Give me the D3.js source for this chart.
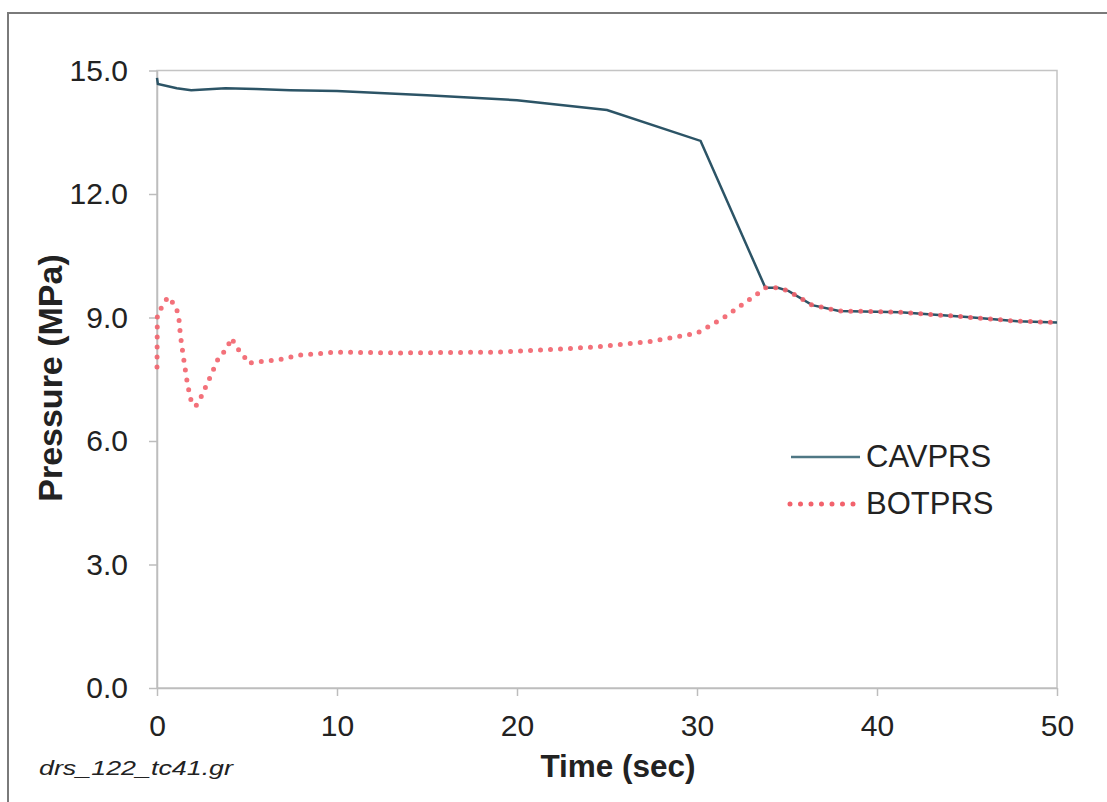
<!DOCTYPE html>
<html lang="en">
<head>
    <meta charset="UTF-8">
    <title>Pressure vs Time</title>
    <script src="https://d3js.org/d3.v7.min.js"></script>
    <style>
        body { margin: 0; background: #fff; }
        text { font-family: "Liberation Sans", Arial, sans-serif; fill: #222; }
    </style>
</head>
<body>
<script>
    const width  = 1107;
    const height = 802;

    // values
    const cavTime = [0, 0.05, 1.1, 1.9, 3.8, 5.5, 7.4, 10, 15, 20, 25, 30.2, 33.8, 34.5, 35.1, 36.4, 37.9, 41.3, 45, 47.8, 50];
    const cavPrs  = [14.82, 14.67, 14.57, 14.52, 14.57, 14.55, 14.52, 14.5, 14.4, 14.28, 14.04, 13.29, 9.72, 9.72, 9.64, 9.3, 9.16, 9.13, 9.01, 8.91, 8.88];

    const botTime = [0, 0.02, 0.35, 0.6, 1.0, 1.2, 1.3, 1.45, 1.7, 1.95, 2.2, 2.45, 2.95, 3.4, 3.85, 4.15, 4.4, 4.8, 5.05, 5.6, 6.7, 8, 10, 13.5, 19, 24.3, 27.4, 30, 31.5, 33.4, 33.8, 34.5, 35.1, 36.4, 37.9, 41.3, 45, 47.8, 50];
    const botPrs  = [7.8, 9.1, 9.3, 9.5, 9.3, 9.06, 8.57, 8.09, 7.36, 6.87, 6.87, 7.07, 7.55, 8.0, 8.23, 8.5, 8.28, 8.09, 7.89, 7.92, 7.97, 8.09, 8.16, 8.14, 8.16, 8.28, 8.42, 8.62, 9.0, 9.59, 9.72, 9.72, 9.64, 9.3, 9.16, 9.13, 9.01, 8.91, 8.88];

    const xTicks = [0, 10, 20, 30, 40, 50];
    const yTicks = [0, 3, 6, 9, 12, 15];
    const seriesNames = ["CAVPRS", "BOTPRS"];

    const plotL = 157, plotR = 1057, plotT = 70.5, plotB = 688;

    const x = d3.scaleLinear().domain([0, 50]).range([plotL, plotR]);
    const y = d3.scaleLinear().domain([0, 15]).range([plotB, plotT]);

    const svg = d3.select("body")
            .append("svg")
            .attr("width", width)
            .attr("height", height);

    // outer frame
    svg.append("rect")
            .attr("x", 8).attr("y", 13)
            .attr("width", 1120).attr("height", 810)
            .style("fill", "none")
            .style("stroke", "#7a7a7a")
            .style("stroke-width", 2);

    // plot area border
    svg.append("rect")
            .attr("x", plotL).attr("y", plotT)
            .attr("width", plotR - plotL).attr("height", plotB - plotT)
            .style("fill", "none")
            .style("stroke", "#c4c4c4")
            .style("stroke-width", 1.5);

    const xAxis = svg.append("g")
            .attr("transform", "translate(0," + plotB + ")")
            .call(d3.axisBottom(x).tickValues(xTicks).tickSize(8).tickPadding(19).tickSizeOuter(0));

    const yAxis = svg.append("g")
            .attr("transform", "translate(" + plotL + ",0)")
            .call(d3.axisLeft(y).tickValues(yTicks).tickFormat(d3.format(".1f")).tickSize(8).tickPadding(21).tickSizeOuter(0));

    [xAxis, yAxis].forEach(g => {
        g.select(".domain").style("stroke", "#bdbdbd").style("stroke-width", 1.5);
        g.selectAll(".tick line").style("stroke", "#bdbdbd").style("stroke-width", 1.5);
        g.selectAll(".tick text")
                .style("font-family", '"Liberation Sans", Arial, sans-serif')
                .style("font-size", "30px")
                .style("fill", "#222");
    });

    const line = d3.line()
            .x(d => x(d[0]))
            .y(d => y(d[1]));

    const cavData = cavTime.map((t, i) => [t, cavPrs[i]]);
    const botData = botTime.map((t, i) => [t, botPrs[i]]);

    svg.append("path")
            .datum(cavData)
            .attr("d", line)
            .style("fill", "none")
            .style("stroke", "#2c5466")
            .style("stroke-width", 2.5);

    svg.append("path")
            .datum(botData)
            .attr("d", line)
            .style("fill", "none")
            .style("stroke", "#f2626c")
            .style("stroke-width", 5)
            .style("stroke-linecap", "round")
            .style("stroke-dasharray", "0 10")
            .style("opacity", 0.9);

    // legend
    const legend = svg.append("g");
    legend.append("line")
            .attr("x1", 791).attr("x2", 860).attr("y1", 457).attr("y2", 457)
            .style("stroke", "#4f7784").style("stroke-width", 2.5);
    legend.append("line")
            .attr("x1", 790).attr("x2", 856).attr("y1", 504).attr("y2", 504)
            .style("stroke", "#f2626c").style("stroke-width", 5)
            .style("stroke-linecap", "round").style("stroke-dasharray", "0 10.5");
    legend.selectAll("text")
            .data(seriesNames)
            .enter().append("text")
            .attr("x", 866)
            .attr("y", (d, i) => 467 + i * 47)
            .style("font-size", "31px")
            .text(d => d);

    // axis titles
    svg.append("text")
            .attr("x", 618).attr("y", 777)
            .attr("text-anchor", "middle")
            .style("font-size", "31.5px")
            .style("font-weight", "bold")
            .text("Time (sec)");

    svg.append("text")
            .attr("transform", "translate(62,378) rotate(-90)")
            .attr("text-anchor", "middle")
            .style("font-size", "34px")
            .style("font-weight", "bold")
            .text("Pressure (MPa)");

    svg.append("text")
            .attr("x", 39).attr("y", 775)
            .attr("textLength", 194)
            .attr("lengthAdjust", "spacingAndGlyphs")
            .style("font-size", "20px")
            .style("font-style", "italic")
            .text("drs_122_tc41.gr");
</script>
</body>
</html>
